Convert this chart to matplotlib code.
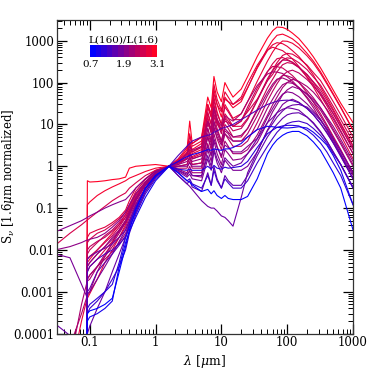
import numpy as np
import matplotlib
matplotlib.use("Agg")
import matplotlib.pyplot as plt
from matplotlib.colors import LinearSegmentedColormap, Normalize
from matplotlib.ticker import LogLocator, FixedLocator, FixedFormatter, NullFormatter
import matplotlib as mpl

plt.rcParams['font.family'] = ['DejaVu Serif']
plt.rcParams['mathtext.fontset'] = 'dejavuserif'

nan = np.nan

# wavelength grid (micron)
wavelength = [0.03, 0.05, 0.075, 0.089, 0.092, 0.1, 0.13, 0.17, 0.22, 0.28,
              0.35, 0.4, 0.5, 0.7, 1.0, 1.6, 2.2, 3.0, 3.3, 3.6,
              5.0, 6.2, 7.0, 7.7, 8.6, 10, 11.3, 12.7, 15, 20,
              25, 35, 50, 60, 70, 85, 100, 120, 150, 200,
              250, 320, 400, 500, 650, 1000]

# L(160)/L(1.6) colour value of each SED
ratio = [3.1, 3.0, 2.9, 2.85, 2.8, 2.75, 2.7, 2.6, 2.55, 2.5, 2.45, 2.35,
         2.25, 2.2, 2.15, 2.05, 1.95, 1.85, 1.7, 1.6, 1.5, 1.3, 0.9, 0.7,
         2.65, 2.3, 1.75, 1.1]

sed_01 = [nan, nan, nan, 1e-5, 0.45, 0.42, 0.43, 0.45, 0.48, 0.5, 0.55, 0.9, 1.0, 1.05, 1.1, 1, 1.4, 2.5, 12, 3.5, 5, 45, 25, 140, 60, 35, 100, 70, 45, 70,
          139, 420, 1150, 1730, 2120, 2080, 1870, 1520, 1130, 660, 410, 225, 123, 66, 32, 11]
sed_02 = [nan, nan, nan, 1e-5, 0.12, 0.14, 0.2, 0.26, 0.32, 0.38, 0.45, 0.52, 0.6, 0.75, 0.9, 1, 1.3, 2, 4, 2.5, 3.5, 30, 15, 70, 30, 15, 45, 35, 25, 35,
          74, 230, 650, 1025, 1350, 1440, 1290, 1110, 830, 500, 325, 182, 100, 54, 26, 7.4]
sed_03 = [nan, nan, nan, 1e-5, 0.005, 0.006, 0.01, 0.016, 0.025, 0.04, 0.07, 0.11, 0.22, 0.42, 0.7, 1, 1.2, 1.8, 3, 2, 2.5, 18, 10, 45, 20, 10, 30, 22, 14, 18,
          35, 107, 324, 537, 760, 985, 970, 870, 676, 436, 290, 166, 93, 51, 25, 7.2]
sed_04 = [nan, 1e-5, 0.0002, 0.0006, 0.0007, 0.0009, 0.002, 0.005, 0.01, 0.02, 0.04, 0.07, 0.15, 0.35, 0.7, 1, 1.4, 2.2, 6, 3, 4, 30, 18, 90, 40, 22, 60, 45, 30, 40,
          75, 221, 580, 800, 900, 850, 735, 580, 420, 248, 150, 78, 43, 23, 10.6, 3.1]
sed_05 = [nan, nan, nan, 1e-5, 0.02, 0.025, 0.03, 0.035, 0.045, 0.06, 0.09, 0.15, 0.3, 0.5, 0.8, 1, 1.5, 2.8, 5, 3.5, 5, 25, 15, 55, 30, 20, 40, 35, 30, 45,
          97, 260, 600, 700, 645, 580, 475, 367, 243, 133, 78, 40, 22, 11.6, 5.5, 1.5]
sed_06 = [nan, nan, nan, 1e-5, 0.003, 0.004, 0.006, 0.01, 0.016, 0.028, 0.05, 0.08, 0.16, 0.36, 0.65, 1, 1.1, 1.5, 2.5, 1.6, 2, 15, 7, 30, 14, 7, 18, 14, 9, 9,
          14, 38, 123, 200, 300, 445, 500, 478, 384, 262, 173, 112, 63, 35, 17, 5]
sed_07 = [0.013, 0.025, 0.04, 0.05, 0.052, 0.058, 0.08, 0.11, 0.15, 0.19, 0.23, 0.3, 0.4, 0.6, 0.8, 1, 1.2, 1.6, 2, 1.7, 2.2, 12, 7, 25, 12, 7, 15, 12, 9, 12,
          22, 63, 179, 283, 372, 397, 356, 306, 229, 138, 90, 50, 28, 15, 7.1, 2.0]
sed_08 = [nan, nan, nan, 1e-5, 0.006, 0.007, 0.01, 0.015, 0.022, 0.035, 0.06, 0.09, 0.18, 0.4, 0.7, 1, 1.0, 1.1, 1.8, 1.1, 1.2, 8, 4, 16, 8, 4, 10, 8, 5, 5,
          8, 23, 74, 120, 181, 267, 300, 287, 230, 157, 104, 67, 38, 21, 10, 3.0]
sed_09 = [nan, nan, nan, 1e-5, 0.008, 0.01, 0.015, 0.022, 0.03, 0.045, 0.07, 0.1, 0.2, 0.42, 0.72, 1, 1.3, 2, 2.5, 2.2, 3, 10, 7, 18, 10, 8, 12, 11, 9, 12,
          26, 74, 185, 243, 240, 223, 185, 147, 102, 57, 34, 18, 9.8, 5.2, 2.5, 0.7]
sed_10 = [nan, nan, nan, 1e-5, 0.01, 0.012, 0.016, 0.02, 0.028, 0.04, 0.06, 0.09, 0.18, 0.4, 0.7, 1, 1.2, 1.5, 2.2, 1.5, 1.8, 12, 6, 22, 11, 6, 14, 10, 7, 8,
          13, 37, 113, 188, 265, 345, 340, 305, 236, 153, 101, 58, 33, 18, 8.8, 2.5]
sed_11 = [nan, nan, nan, 1e-5, 0.002, 0.0025, 0.004, 0.007, 0.012, 0.02, 0.035, 0.06, 0.13, 0.3, 0.6, 1, 0.9, 0.9, 1.3, 0.9, 0.9, 5, 2.5, 9, 4.5, 2.5, 6, 4.5, 3, 3,
          4, 11, 36, 62, 94, 148, 182, 198, 170, 118, 83, 53, 31, 18, 8.7, 2.6]
sed_12 = [nan, 5e-5, 0.0003, 0.0007, 0.0008, 0.001, 0.003, 0.007, 0.015, 0.03, 0.05, 0.08, 0.16, 0.35, 0.65, 1, 1.0, 1.1, 1.5, 1.1, 1.2, 6, 3.5, 11, 6, 3.5, 7, 6, 4, 4,
          6, 16, 49, 81, 114, 148, 145, 130, 101, 65, 43, 25, 14, 7.7, 3.8, 1.1]
sed_13 = [nan, nan, nan, 1e-5, 0.002, 0.0025, 0.004, 0.006, 0.009, 0.015, 0.025, 0.045, 0.1, 0.28, 0.58, 1, 0.85, 0.7, 1.0, 0.7, 0.7, 3.5, 1.8, 6, 3, 1.6, 4, 3, 2, 2,
          2.5, 5.6, 16.5, 29.5, 45, 76, 100, 120, 107, 81, 59, 37, 23, 13.5, 6.6, 2.0]
sed_14 = [nan, nan, nan, 1e-5, 0.004, 0.005, 0.008, 0.012, 0.02, 0.03, 0.05, 0.08, 0.17, 0.37, 0.68, 1, 1.2, 1.5, 2, 1.5, 1.8, 8, 4, 12, 7, 4, 8, 6.5, 5, 5.5,
          8, 21, 58, 92, 121, 129, 116, 100, 74, 45, 29, 16, 9, 4.8, 2.3, 0.67]
sed_15 = [nan, nan, nan, 1e-5, 0.004, 0.005, 0.008, 0.012, 0.018, 0.028, 0.045, 0.07, 0.15, 0.35, 0.65, 1, 1.1, 1.3, 1.6, 1.3, 1.5, 5, 3, 8, 5, 3.2, 6, 5, 4, 4,
          5, 7.6, 24.5, 40, 60, 89, 100, 96, 77, 52, 35, 22, 12.6, 7, 3.4, 1.0]
sed_16 = [0.01, 0.012, 0.015, 0.017, 0.017, 0.018, 0.02, 0.025, 0.035, 0.05, 0.08, 0.12, 0.22, 0.42, 0.7, 1, 0.8, 0.6, 0.8, 0.6, 0.55, 2.5, 1.3, 4, 2, 1.1, 2.5, 2, 1.4, 1.5,
          2, 3.7, 11, 20, 30, 51, 67, 80, 71, 54, 39, 25, 15, 9, 4.4, 1.3]
sed_17 = [0.027, 0.038, 0.05, 0.058, 0.06, 0.065, 0.08, 0.1, 0.12, 0.14, 0.16, 0.2, 0.3, 0.5, 0.75, 1, 1.0, 1.0, 1.2, 1.0, 1.0, 3, 1.8, 4.5, 2.8, 1.8, 3.2, 2.8, 2.2, 2.2,
          3, 4.6, 14.7, 24, 36, 53, 60, 57, 46, 31, 21, 13.4, 7.6, 4.2, 2.0, 0.6]
sed_18 = [0.008, 0.0065, 0.0015, 0.0008, 0.0009, 0.001, 0.002, 0.004, 0.008, 0.016, 0.03, 0.05, 0.12, 0.3, 0.6, 1, 0.75, 0.55, 0.65, 0.5, 0.45, 1.5, 0.8, 2.3, 1.2, 0.7, 1.4, 1.1, 0.8, 0.8,
          1.0, 2.2, 7.3, 12.4, 19, 30, 36, 40, 34, 24, 17, 10.6, 6.2, 3.6, 1.7, 0.5]
sed_19 = [0.00017, 0.00009, 0.00003, 0.00005, 0.0001, 0.00015, 0.0004, 0.001, 0.003, 0.008, 0.02, 0.04, 0.1, 0.3, 0.6, 1, 0.6, 0.38, 0.33, 0.28, 0.15, 0.11, 0.1, 0.1, 0.085, 0.065, 0.06, 0.05, 0.037, 0.18,
          0.7, 2.2, 7, 10.5, 15, 21, 26, 29, 30, 26, 19, 12.5, 8, 4.5, 2.3, 0.7]
sed_20 = [nan, nan, nan, 1e-5, 0.001, 0.0012, 0.003, 0.005, 0.008, 0.013, 0.022, 0.035, 0.08, 0.25, 0.55, 1, 0.6, 0.38, 0.45, 0.32, 0.25, 0.7, 0.35, 1.0, 0.5, 0.3, 0.6, 0.45, 0.35, 0.35,
          0.6, 1.8, 5, 7.5, 10, 14, 17, 18.5, 19, 15, 10.5, 6.5, 4, 2.2, 1.1, 0.32]
sed_21 = [nan, nan, nan, 1e-5, 0.003, 0.004, 0.006, 0.008, 0.01, 0.014, 0.02, 0.035, 0.08, 0.25, 0.55, 1, 1.8, 3, 3.5, 4, 5, 5.5, 5.8, 6.5, 7, 8, 8.5, 9, 10, 13,
          16, 22, 30, 33, 36, 37.5, 38, 37, 33, 24, 17, 10.5, 6.5, 3.6, 1.8, 0.5]
sed_22 = [nan, nan, nan, 1e-5, 0.0003, 0.0004, 0.0006, 0.001, 0.002, 0.004, 0.01, 0.025, 0.07, 0.22, 0.5, 1, 0.7, 0.45, 0.5, 0.38, 0.3, 0.6, 0.35, 0.8, 0.45, 0.3, 0.5, 0.4, 0.3, 0.3,
          0.45, 1.2, 3, 4.6, 6.5, 8.8, 10.5, 11.5, 12, 10.5, 8, 5.5, 3.5, 2.0, 1.1, 0.3]
sed_23 = [nan, nan, nan, 1e-5, 0.0002, 0.00025, 0.0003, 0.0004, 0.0006, 0.004, 0.015, 0.028, 0.06, 0.18, 0.45, 1, 1.3, 1.7, 1.8, 1.9, 2.2, 2.5, 2.4, 2.6, 2.5, 2.4, 2.6, 2.6, 2.8, 3.5,
          5, 7.5, 9, 8.8, 8.5, 8.3, 8.2, 8.4, 8.8, 8.2, 6.5, 4.6, 3.2, 1.8, 0.8, 0.12]
sed_24 = [nan, nan, nan, 1e-5, 0.0003, 0.00035, 0.0004, 0.0005, 0.0007, 0.003, 0.012, 0.03, 0.09, 0.3, 0.6, 1, 0.7, 0.45, 0.42, 0.36, 0.25, 0.28, 0.22, 0.26, 0.2, 0.17, 0.2, 0.17, 0.16, 0.16,
          0.19, 0.5, 2.0, 3.2, 4.3, 5.5, 6.3, 6.8, 6.8, 5.3, 3.8, 2.4, 1.3, 0.7, 0.3, 0.03]
sed_25 = [nan, nan, nan, 1e-5, 0.015, 0.018, 0.025, 0.03, 0.04, 0.055, 0.08, 0.12, 0.25, 0.48, 0.78, 1, 1.3, 1.9, 3.5, 2.2, 2.8, 20, 10, 38, 18, 10, 26, 20, 13, 13,
          20, 40, 110, 156, 240, 347, 390, 373, 300, 204, 135, 87, 49, 27, 13, 3.9]
sed_26 = [nan, 2e-5, 0.0005, 0.0015, 0.0018, 0.002, 0.004, 0.008, 0.014, 0.025, 0.045, 0.07, 0.15, 0.36, 0.66, 1, 1.3, 2, 3, 2.4, 3, 12, 8, 25, 13, 9, 16, 14, 12, 18,
          35, 85, 160, 180, 178, 165, 137, 109, 75, 42, 25, 13, 7.3, 3.8, 1.9, 0.5]
sed_27 = [nan, nan, nan, 1e-5, 0.006, 0.007, 0.009, 0.011, 0.014, 0.02, 0.03, 0.05, 0.11, 0.3, 0.6, 1, 0.8, 0.65, 0.75, 0.6, 0.6, 1.8, 1.0, 2.6, 1.5, 0.9, 1.6, 1.3, 1.0, 1.2,
          2.0, 4.5, 11, 14.5, 19, 23, 25, 24, 22, 15, 11, 6.8, 4, 2.2, 1.1, 0.3]
sed_28 = [nan, nan, nan, 1e-5, 0.0004, 0.0005, 0.0007, 0.001, 0.0015, 0.005, 0.02, 0.04, 0.1, 0.3, 0.6, 1, 0.85, 0.8, 0.85, 0.8, 0.8, 1.0, 0.85, 1.05, 0.9, 0.85, 0.95, 0.9, 0.93, 1.0,
          1.3, 2.8, 6, 7.3, 8.5, 9.2, 9.5, 9.5, 9.2, 7.3, 5.5, 3.6, 2.2, 1.2, 0.6, 0.12]

x_ticks = [0.1, 1, 10, 100, 1000]
x_tick_labels = ['0.1', '1', '10', '100', '1000']
y_ticks = [0.0001, 0.001, 0.01, 0.1, 1, 10, 100, 1000]
y_tick_labels = ['0.0001', '0.001', '0.01', '0.1', '1', '10', '100', '1000']
cbar_ticks = [0.7, 1.9, 3.1]
cbar_tick_labels = ['0.7', '1.9', '3.1']

seds = [sed_01, sed_02, sed_03, sed_04, sed_05, sed_06, sed_07, sed_08,
        sed_09, sed_10, sed_11, sed_12, sed_13, sed_14, sed_15, sed_16,
        sed_17, sed_18, sed_19, sed_20, sed_21, sed_22, sed_23, sed_24,
        sed_25, sed_26, sed_27, sed_28]

cmap = LinearSegmentedColormap.from_list('br', [(0.0, 0.0, 1.0), (1.0, 0.0, 0.15)], N=256)
norm = Normalize(vmin=0.7, vmax=3.1)

fig = plt.figure(figsize=(3.74, 3.74), dpi=100)
ax = fig.add_axes([0.152, 0.108, 0.792, 0.839])

order = np.argsort(ratio)[::-1]
for i in order:
    ax.plot(wavelength, seds[i], color=cmap(norm(ratio[i])), lw=0.8)

ax.set_xscale('log')
ax.set_yscale('log')
ax.set_xlim(10 ** -1.5, 1000)
ax.set_ylim(1e-4, 10 ** 3.5)

ax.xaxis.set_major_locator(FixedLocator(x_ticks))
ax.xaxis.set_major_formatter(FixedFormatter(x_tick_labels))
ax.yaxis.set_major_locator(FixedLocator(y_ticks))
ax.yaxis.set_major_formatter(FixedFormatter(y_tick_labels))
ax.xaxis.set_minor_locator(LogLocator(base=10, subs=np.arange(2, 10), numticks=20))
ax.yaxis.set_minor_locator(LogLocator(base=10, subs=np.arange(2, 10), numticks=20))
ax.xaxis.set_minor_formatter(NullFormatter())
ax.yaxis.set_minor_formatter(NullFormatter())
ax.tick_params(which='both', direction='in', top=True, right=True, labelsize=8.5)
ax.tick_params(which='major', length=7, width=0.9, pad=2)
ax.tick_params(which='minor', length=3.5, width=0.7)
for sp in ax.spines.values():
    sp.set_linewidth(0.9)
    sp.set_color('#333333')

ax.set_xlabel(r'$\lambda$ [$\mu$m]', fontsize=9)
ax.set_ylabel(r'S$_\nu$ [1.6$\mu$m normalized]', fontsize=8.5)
ax.xaxis.set_label_coords(0.5, -0.062)
ax.yaxis.set_label_coords(-0.133, 0.5)

# colour bar inset
cax = fig.add_axes([0.241, 0.847, 0.179, 0.032])
cb = mpl.colorbar.ColorbarBase(cax, cmap=cmap.resampled(12), norm=norm,
                               orientation='horizontal', ticks=cbar_ticks)
cb.outline.set_visible(False)
cax.tick_params(length=0, labelsize=7.5, pad=2)
cax.set_xticklabels(cbar_tick_labels)
cax.set_title('L(160)/L(1.6)', fontsize=7.5, pad=2)

fig.savefig('out.png', dpi=100)
